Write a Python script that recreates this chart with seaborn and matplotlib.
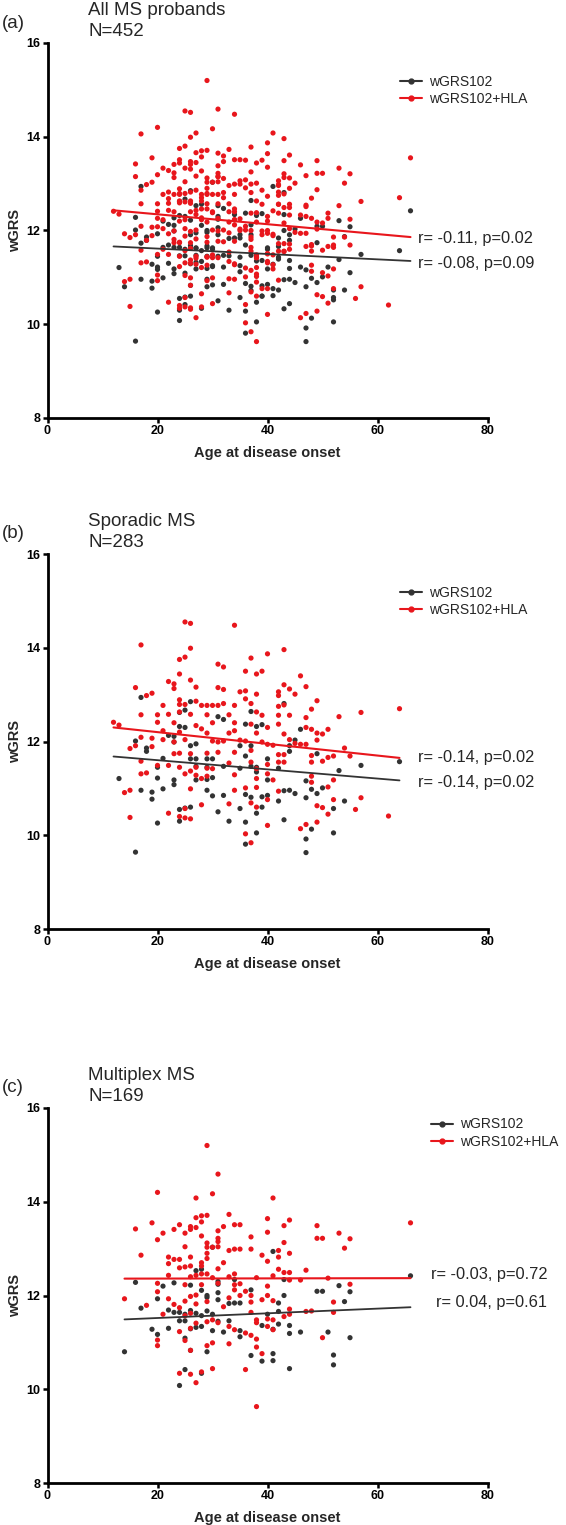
import pandas as pd
import seaborn as sns
import matplotlib.pyplot as plt
from matplotlib.lines import Line2D

# Sporadic MS probands (N=283)
spor_red_age = [25, 26, 34, 17, 26, 43, 40, 37, 25, 24,
                31, 32, 36, 39, 38, 24, 46, 22, 26, 23,
                43, 47, 16, 23, 27, 31, 32, 35, 36, 42,
                44, 45, 19, 18, 38, 42, 24, 25, 27, 28,
                29, 30, 31, 32, 34, 36, 37, 42, 43, 49,
                21, 24,
                17, 20, 22, 24, 26, 29, 33, 38, 39, 42,
                44, 48, 53, 57, 12, 13, 20, 23, 27, 30,
                34, 37, 40, 42, 47, 47, 21, 24, 28, 29,
                33, 34, 38, 43, 48, 49, 50, 51, 17, 19,
                21, 23, 25, 30, 31, 32, 35, 36, 39, 40,
                41, 44, 45, 46, 47, 49, 15, 16, 19, 23,
                24, 26, 29, 31, 34, 37, 42, 43, 48, 54,
                55, 52, 51, 50, 17, 20, 22, 24, 26, 27,
                29, 30, 33, 37, 38, 40, 42, 43, 48, 17,
                18, 25, 27, 28, 29, 34, 38, 40, 48, 52,
                14, 15, 26, 34, 36, 38, 41, 42, 48, 51,
                52, 37, 40, 28, 33, 38, 49, 50, 57, 56,
                15, 22, 24, 25, 25, 26, 51, 49, 46, 47,
                40, 36, 37, 62, 64]
spor_red_val = [14.55, 14.52, 14.48, 14.06, 13.99, 13.96, 13.87, 13.78, 13.80, 13.75,
                13.65, 13.59, 13.50, 13.50, 13.44, 13.44, 13.40, 13.28, 13.31, 13.23,
                13.21, 13.17, 13.15, 13.13, 13.16, 13.15, 13.11, 13.06, 13.08, 13.06,
                13.12, 13.01, 13.03, 12.98, 13.01, 12.98, 12.89, 12.79, 12.86, 12.77,
                12.77, 12.77, 12.77, 12.81, 12.77, 12.91, 12.81, 12.75, 12.78, 12.87,
                12.77, 12.79,
                12.57, 12.57, 12.58, 12.63, 12.58, 12.57, 12.57, 12.63, 12.56, 12.56,
                12.56, 12.69, 12.53, 12.62, 12.41, 12.35, 12.41, 12.40, 12.34, 12.40,
                12.40, 12.37, 12.30, 12.37, 12.51, 12.30, 12.23, 12.20, 12.27, 12.18,
                12.18, 12.23, 12.18, 12.16, 12.26, 12.18, 12.16, 12.26, 12.09, 12.07,
                12.04, 11.99, 12.04, 12.01, 11.99, 12.01, 12.03, 12.01, 11.99, 11.94,
                11.92, 12.04, 11.96, 11.94, 11.94, 12.03, 11.85, 11.91, 11.89, 11.74,
                11.75, 11.74, 11.75, 11.77, 11.77, 11.81, 11.72, 11.72, 11.70, 11.86,
                11.69, 11.69, 11.66, 11.58, 11.58, 11.49, 11.49, 11.45, 11.37, 11.45,
                11.43, 11.42, 11.54, 11.56, 11.42, 11.51, 11.56, 11.56, 11.56, 11.31,
                11.33, 11.31, 11.28, 11.21, 11.26, 11.29, 11.21, 11.31, 11.26, 11.18,
                10.91, 10.96, 10.99, 10.96, 11.01, 11.02, 11.18, 10.94, 11.13, 11.03,
                10.76, 10.69, 10.76, 10.65, 10.67, 10.60, 10.63, 10.59, 10.80, 10.55,
                10.38, 10.47, 10.40, 10.57, 10.37, 10.35, 10.45, 10.28, 10.14, 10.23,
                10.21, 10.03, 9.84, 10.41, 12.70]
spor_blk_age = [17, 26, 25, 24, 32, 31, 37, 36, 38, 39,
                24, 25, 43, 46, 23, 22, 16, 23, 26, 27,
                35, 37, 44, 45, 18, 18, 44, 49, 21, 26,
                27, 29, 30, 36, 40, 20, 27, 29, 32, 35,
                37, 38, 42, 38, 53, 57, 13, 20, 23, 27,
                29, 30, 40, 47, 17, 19, 21, 23, 29, 30,
                32, 36, 37, 39, 40, 42, 43, 44, 45, 47,
                48, 49, 50, 19, 54, 52, 35, 39, 24, 25,
                26, 31, 38, 20, 24, 33, 36, 43, 48, 52,
                38, 47, 36, 16, 47, 64]
spor_blk_val = [12.94, 12.85, 12.67, 12.62, 12.47, 12.53, 12.64, 12.37, 12.32, 12.36,
                12.32, 12.30, 12.81, 12.26, 12.11, 12.13, 12.01, 11.99, 11.91, 11.95,
                11.91, 11.91, 11.91, 12.03, 11.86, 11.79, 11.79, 11.74, 11.64, 11.63,
                11.63, 11.63, 11.63, 11.69, 11.63, 11.45, 11.47, 11.45, 11.47, 11.43,
                11.47, 11.45, 11.43, 11.35, 11.38, 11.49, 11.21, 11.22, 11.18, 11.18,
                11.19, 11.23, 11.18, 11.16, 10.96, 10.92, 10.99, 11.08, 10.96, 10.84,
                10.85, 10.87, 10.81, 10.82, 10.85, 10.73, 10.95, 10.96, 10.89, 10.80,
                10.98, 10.89, 11.01, 10.77, 10.73, 10.57, 10.57, 10.60, 10.55, 10.58,
                10.60, 10.50, 10.47, 10.26, 10.30, 10.30, 10.28, 10.33, 10.13, 10.05,
                10.05, 9.92, 9.81, 9.64, 9.63, 11.57]

# Multiplex MS probands (N=169)
mult_red_age = [29, 31, 20, 30, 27, 41, 33, 29, 28, 27,
                28, 40, 44, 19, 16, 24, 23, 26, 26, 27,
                34, 35, 32, 43, 49, 21, 25, 28, 31, 31,
                31, 37, 40, 49, 50, 53, 55, 20, 29, 30,
                29, 25, 31, 33, 34, 35, 37, 43, 42, 54,
                17, 22, 23, 24, 26, 28, 29, 29, 39, 42,
                44, 22, 24, 25, 26, 28, 31, 32, 40, 42,
                43, 44, 47, 22, 26, 27, 28, 29, 30, 33,
                34, 38, 41, 44, 46, 51, 20, 25, 28, 31,
                34, 35, 40, 55, 14, 18, 20, 22, 23, 24,
                25, 26, 27, 27, 29, 32, 34, 33, 35, 36,
                37, 37, 40, 39, 41, 52, 21, 25, 26, 27,
                30, 31, 37, 38, 38, 40, 41, 43, 44, 44,
                47, 48, 52, 24, 26, 29, 33, 34, 36, 37,
                38, 40, 41, 20, 20, 25, 26, 29, 30, 33,
                38, 39, 50, 24, 26, 27, 28, 30, 36, 38,
                66]
mult_red_val = [15.20, 14.59, 14.20, 14.17, 14.08, 14.08, 13.73, 13.71, 13.70, 13.66,
                13.57, 13.64, 13.61, 13.55, 13.42, 13.51, 13.41, 13.47, 13.41, 13.45,
                13.51, 13.51, 13.47, 13.49, 13.49, 13.33, 13.33, 13.27, 13.38, 13.22,
                13.15, 13.25, 13.35, 13.22, 13.22, 13.33, 13.21, 13.19, 13.12, 13.03,
                13.03, 13.04, 13.04, 12.96, 12.99, 12.99, 12.99, 13.13, 12.96, 13.01,
                12.86, 12.82, 12.77, 12.77, 12.82, 12.70, 12.79, 12.90, 12.86, 12.82,
                12.90, 12.68, 12.59, 12.61, 12.63, 12.63, 12.57, 12.70, 12.73, 12.56,
                12.49, 12.49, 12.54, 12.43, 12.40, 12.43, 12.46, 12.46, 12.38, 12.40,
                12.46, 12.38, 12.42, 12.33, 12.33, 12.37, 12.26, 12.23, 12.23, 12.26,
                12.23, 12.25, 12.20, 12.24, 11.93, 11.79, 12.08, 11.93, 11.81, 11.74,
                11.88, 11.98, 12.01, 11.82, 11.87, 11.76, 12.12, 11.95, 12.00, 12.09,
                12.00, 11.86, 12.00, 11.91, 11.89, 11.86, 11.60, 11.57, 11.62, 11.41,
                11.48, 11.42, 11.64, 11.48, 11.42, 11.50, 11.48, 11.55, 11.71, 11.60,
                11.66, 11.67, 11.64, 11.23, 11.30, 11.44, 11.34, 11.27, 11.20, 11.15,
                11.07, 11.34, 11.27, 11.05, 10.93, 11.04, 10.83, 10.93, 10.99, 10.97,
                10.90, 10.76, 11.10, 10.34, 10.32, 10.14, 10.37, 10.44, 10.42, 9.63,
                13.55]
mult_blk_age = [30, 41, 27, 28, 16, 21, 23, 26, 31, 31,
                34, 37, 43, 53, 49, 50, 55, 28, 29, 29,
                31, 31, 20, 17, 22, 23, 24, 25, 26, 27,
                29, 33, 34, 35, 42, 43, 54, 24, 25, 28,
                30, 31, 33, 40, 42, 44, 19, 22, 26, 27,
                28, 30, 32, 35, 35, 39, 41, 42, 44, 46,
                51, 55, 20, 25, 14, 26, 29, 37, 39, 41,
                41, 44, 52, 52, 25, 28, 24, 66]
mult_blk_val = [13.03, 12.94, 12.53, 12.56, 12.28, 12.20, 12.27, 12.22, 12.30, 12.24,
                12.34, 12.12, 12.34, 12.21, 12.09, 12.09, 12.08, 12.11, 12.00, 11.96,
                12.06, 11.91, 11.93, 11.73, 11.69, 11.64, 11.64, 11.60, 11.68, 11.62,
                11.67, 11.83, 11.84, 11.84, 11.84, 12.00, 11.87, 11.46, 11.46, 11.57,
                11.60, 11.45, 11.46, 11.60, 11.66, 11.36, 11.28, 11.30, 11.29, 11.32,
                11.34, 11.25, 11.22, 11.25, 11.12, 11.36, 11.28, 11.39, 11.19, 11.22,
                11.22, 11.10, 11.17, 11.09, 10.80, 10.83, 10.80, 10.72, 10.60, 10.76,
                10.61, 10.44, 10.73, 10.52, 10.42, 10.34, 10.08, 12.42]

# fitted regression lines (end points)
fit_age = {'a': [12, 66], 'b': [12, 64], 'c': [14, 66]}
fit_red = {'a': [12.43, 11.86], 'b': [12.30, 11.65], 'c': [12.36, 12.37]}
fit_blk = {'a': [11.66, 11.35], 'b': [11.68, 11.17], 'c': [11.49, 11.75]}

titles = {'a': 'All MS probands', 'b': 'Sporadic MS', 'c': 'Multiplex MS'}
n_labels = {'a': 'N=452', 'b': 'N=283', 'c': 'N=169'}
stats_red = {'a': 'r= -0.11, p=0.02', 'b': 'r= -0.14, p=0.02', 'c': 'r= -0.03, p=0.72'}
stats_blk = {'a': 'r= -0.08, p=0.09', 'b': 'r= -0.14, p=0.02', 'c': 'r= 0.04, p=0.61'}
# where the r/p labels sit (age, wGRS)
stats_red_pos = {'a': (67.4, 11.84), 'b': (67.4, 11.66), 'c': (69.8, 12.44)}
stats_blk_pos = {'a': (67.4, 11.30), 'b': (67.4, 11.13), 'c': (70.7, 11.86)}
# legend anchor (axes fraction of handle start / top edge) per panel
legend_anchor = {'a': (0.80, 0.915), 'b': (0.80, 0.915), 'c': (0.872, 0.975)}

RED = '#e8161c'
BLK = '#333333'
palette = {'wGRS102': BLK, 'wGRS102+HLA': RED}

sns.set_style('ticks')
plt.rcParams['font.family'] = ['Liberation Sans', 'DejaVu Sans']


def make_df(blk_age, blk_val, red_age, red_val):
    blk = pd.DataFrame({'age': blk_age, 'wgrs': blk_val, 'score': 'wGRS102'})
    red = pd.DataFrame({'age': red_age, 'wgrs': red_val, 'score': 'wGRS102+HLA'})
    return pd.concat([blk, red], ignore_index=True)


spor_df = make_df(spor_blk_age, spor_blk_val, spor_red_age, spor_red_val)
mult_df = make_df(mult_blk_age, mult_blk_val, mult_red_age, mult_red_val)
# all probands = sporadic + multiplex
all_df = pd.concat([spor_df[spor_df.score == 'wGRS102'], mult_df[mult_df.score == 'wGRS102'],
                    spor_df[spor_df.score != 'wGRS102'], mult_df[mult_df.score != 'wGRS102']],
                   ignore_index=True)

W, H = 566, 1525
fig = plt.figure(figsize=(W / 100, H / 100), dpi=100)

ax_left, ax_w, ax_h = 47.5, 440, 375
axis_tops = {'a': 43, 'b': 554, 'c': 1108}
panels = {'a': all_df, 'b': spor_df, 'c': mult_df}

for key, df in panels.items():
    top = axis_tops[key]
    ax = fig.add_axes([ax_left / W, 1 - (top + ax_h) / H, ax_w / W, ax_h / H])

    sns.scatterplot(data=df, x='age', y='wgrs', hue='score', palette=palette,
                    s=14, linewidth=0, legend=False, ax=ax, zorder=3)
    sns.lineplot(x=fit_age[key], y=fit_blk[key], color=BLK, linewidth=1.3, ax=ax, zorder=4)
    sns.lineplot(x=fit_age[key], y=fit_red[key], color=RED, linewidth=1.5, ax=ax, zorder=4)

    ax.set_xlim(0, 80)
    ax.set_ylim(8, 16)
    ax.set_xticks([0, 20, 40, 60, 80])
    ax.set_yticks([8, 10, 12, 14, 16])
    ax.tick_params(direction='out', length=3.5, width=1.8, labelsize=9, pad=1.5, colors='black')
    for lab in ax.get_xticklabels() + ax.get_yticklabels():
        lab.set_fontweight('bold')
    for side in ['top', 'right']:
        ax.spines[side].set_visible(False)
    for side in ['left', 'bottom']:
        ax.spines[side].set_linewidth(2)
        ax.spines[side].set_color('black')

    ax.set_xlabel('Age at disease onset', fontsize=10.5, fontweight='bold')
    ax.set_ylabel('wGRS', fontsize=10.5, fontweight='bold')
    ax.xaxis.set_label_coords(0.5, -0.075)
    ax.yaxis.set_label_coords(-0.058, 0.5)

    handles = [Line2D([], [], color=BLK, marker='o', markersize=3.5, linewidth=1.5),
               Line2D([], [], color=RED, marker='o', markersize=3.5, linewidth=1.5)]
    ax.legend(handles, ['wGRS102', 'wGRS102+HLA'], loc='upper left',
              bbox_to_anchor=legend_anchor[key], frameon=False, fontsize=10,
              handlelength=1.6, handletextpad=0.5, labelspacing=0.25,
              borderpad=0, borderaxespad=0)

    ax.text(*stats_red_pos[key], stats_red[key], fontsize=11.8, ha='left', va='center')
    ax.text(*stats_blk_pos[key], stats_blk[key], fontsize=11.8, ha='left', va='center')

    fig.text(88 / W, 1 - (top - 28) / H, titles[key], fontsize=13.5, va='baseline')
    fig.text(88 / W, 1 - (top - 7) / H, n_labels[key], fontsize=13.5, va='baseline')
    fig.text(2 / W, 1 - (top - 20) / H, '(' + key + ')', fontsize=13.5, va='center')

fig.savefig('out.png', dpi=100)
